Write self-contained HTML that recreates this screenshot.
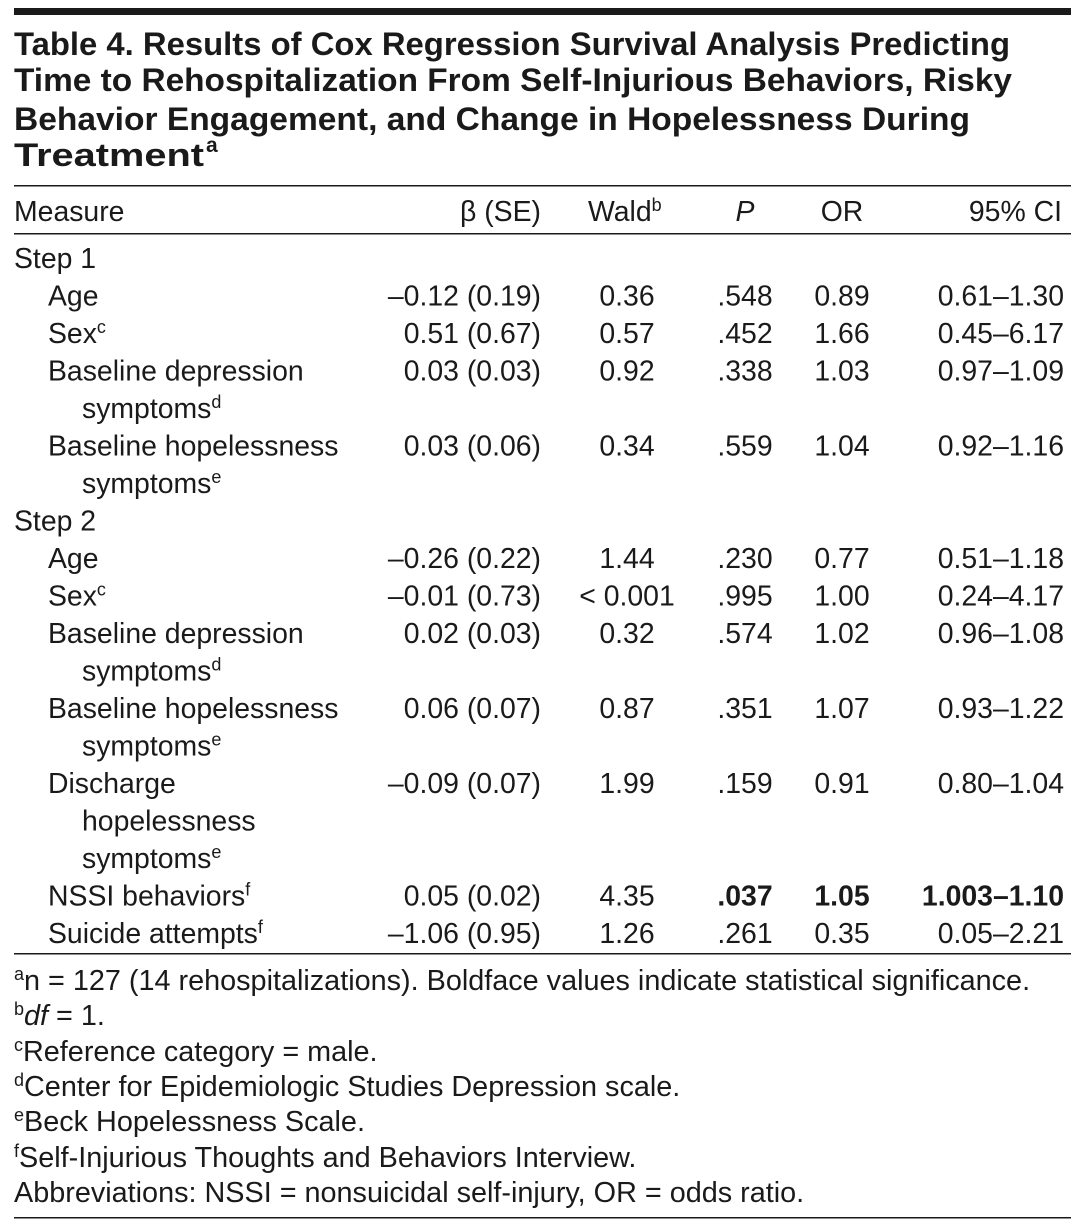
<!DOCTYPE html>
<html><head><meta charset="utf-8">
<style>
html,body{margin:0;padding:0;background:#fff;}
svg{display:block;}
text{font-family:"Liberation Sans",sans-serif;fill:#1a1a1a;}
.t{font-weight:bold;font-size:32px;}
.b{font-size:28.4px;}
.f{font-size:28.8px;}
</style></head>
<body>
<svg width="1084" height="1229" viewBox="0 0 1084 1229" xmlns="http://www.w3.org/2000/svg">
<rect x="14" y="8" width="1057" height="7" fill="#1a1a1a"/>
<g>
<text class="t" x="14" y="55" textLength="996" lengthAdjust="spacingAndGlyphs">Table 4. Results of Cox Regression Survival Analysis Predicting</text>
<text class="t" x="14" y="91" textLength="998" lengthAdjust="spacingAndGlyphs">Time to Rehospitalization From Self-Injurious Behaviors, Risky</text>
<text class="t" x="14" y="130" textLength="956" lengthAdjust="spacingAndGlyphs">Behavior Engagement, and Change in Hopelessness During</text>
<text class="t" x="14" y="166" textLength="190" lengthAdjust="spacingAndGlyphs">Treatment</text>
<text class="t" x="206" y="152" style="font-size:21px">a</text>
</g>
<rect x="14" y="185" width="1057" height="1.5" fill="#1a1a1a"/>
<g>
<text class="b" x="14" y="221">Measure</text>
<text class="b" x="541" y="221" text-anchor="end">β (SE)</text>
<text class="b" x="588" y="221">Wald<tspan font-size="18" dy="-10">b</tspan></text>
<text class="b" x="745" y="221" text-anchor="middle" font-style="italic">P</text>
<text class="b" x="842" y="221" text-anchor="middle">OR</text>
<text class="b" x="1062" y="221" text-anchor="end">95% CI</text>
</g>
<rect x="14" y="233" width="1057" height="1.5" fill="#1a1a1a"/>
<g id="rows"></g>
<rect x="14" y="953" width="1057" height="1.5" fill="#1a1a1a"/>
<g>
<text class="f" x="14" y="990"><tspan font-size="18" dy="-10">a</tspan><tspan dy="10">n = 127 (14 rehospitalizations). Boldface values indicate statistical significance.</tspan></text>
<text class="f" x="14" y="1025"><tspan font-size="18" dy="-10">b</tspan><tspan dy="10" font-style="italic">df</tspan> = 1.</text>
<text class="f" x="14" y="1061"><tspan font-size="18" dy="-10">c</tspan><tspan dy="10">Reference category = male.</tspan></text>
<text class="f" x="14" y="1096"><tspan font-size="18" dy="-10">d</tspan><tspan dy="10">Center for Epidemiologic Studies Depression scale.</tspan></text>
<text class="f" x="14" y="1131"><tspan font-size="18" dy="-10">e</tspan><tspan dy="10">Beck Hopelessness Scale.</tspan></text>
<text class="f" x="14" y="1167"><tspan font-size="18" dy="-10">f</tspan><tspan dy="10">Self-Injurious Thoughts and Behaviors Interview.</tspan></text>
<text class="f" x="14" y="1202">Abbreviations: NSSI = nonsuicidal self-injury, OR = odds ratio.</text>
</g>
<rect x="14" y="1217" width="1057" height="1.5" fill="#1a1a1a"/>
</svg>
<script>
const NS="http://www.w3.org/2000/svg";
const g=document.getElementById('rows');
// [label, indent, sup, beta, wald, p, or, ci, bold]
const rows=[
["Step 1",0,"","","","","","",0],
["Age",1,"","–0.12 (0.19)","0.36",".548","0.89","0.61–1.30",0],
["Sex",1,"c","0.51 (0.67)","0.57",".452","1.66","0.45–6.17",0],
["Baseline depression",1,"","0.03 (0.03)","0.92",".338","1.03","0.97–1.09",0],
["symptoms",2,"d","","","","","",0],
["Baseline hopelessness",1,"","0.03 (0.06)","0.34",".559","1.04","0.92–1.16",0],
["symptoms",2,"e","","","","","",0],
["Step 2",0,"","","","","","",0],
["Age",1,"","–0.26 (0.22)","1.44",".230","0.77","0.51–1.18",0],
["Sex",1,"c","–0.01 (0.73)","< 0.001",".995","1.00","0.24–4.17",0],
["Baseline depression",1,"","0.02 (0.03)","0.32",".574","1.02","0.96–1.08",0],
["symptoms",2,"d","","","","","",0],
["Baseline hopelessness",1,"","0.06 (0.07)","0.87",".351","1.07","0.93–1.22",0],
["symptoms",2,"e","","","","","",0],
["Discharge",1,"","–0.09 (0.07)","1.99",".159","0.91","0.80–1.04",0],
["hopelessness",2,"","","","","","",0],
["symptoms",2,"e","","","","","",0],
["NSSI behaviors",1,"f","0.05 (0.02)","4.35",".037","1.05","1.003–1.10",1],
["Suicide attempts",1,"f","–1.06 (0.95)","1.26",".261","0.35","0.05–2.21",0]
];
function t(x,y,s,anchor,bold){
 const e=document.createElementNS(NS,'text');
 e.setAttribute('class','b');e.setAttribute('x',x);e.setAttribute('y',y);
 if(anchor)e.setAttribute('text-anchor',anchor);
 if(bold)e.setAttribute('font-weight','bold');
 e.textContent=s;g.appendChild(e);return e;
}
rows.forEach((r,i)=>{
 const y=268+i*37.5;
 const ix=[14,48,82][r[1]];
 const lab=t(ix,y,r[0]);
 
 
 if(r[2]){const s=document.createElementNS(NS,'tspan');s.setAttribute('font-size','18');s.setAttribute('dy','-10');s.textContent=r[2];lab.appendChild(s);}
 if(r[3]){
  t(541,y,r[3],'end');
  t(627,y,r[4],'middle');
  t(745,y,r[5],'middle',r[8]);
  t(842,y,r[6],'middle',r[8]);
  t(1064,y,r[7],'end',r[8]);
 }
});
</script>
</body></html>
